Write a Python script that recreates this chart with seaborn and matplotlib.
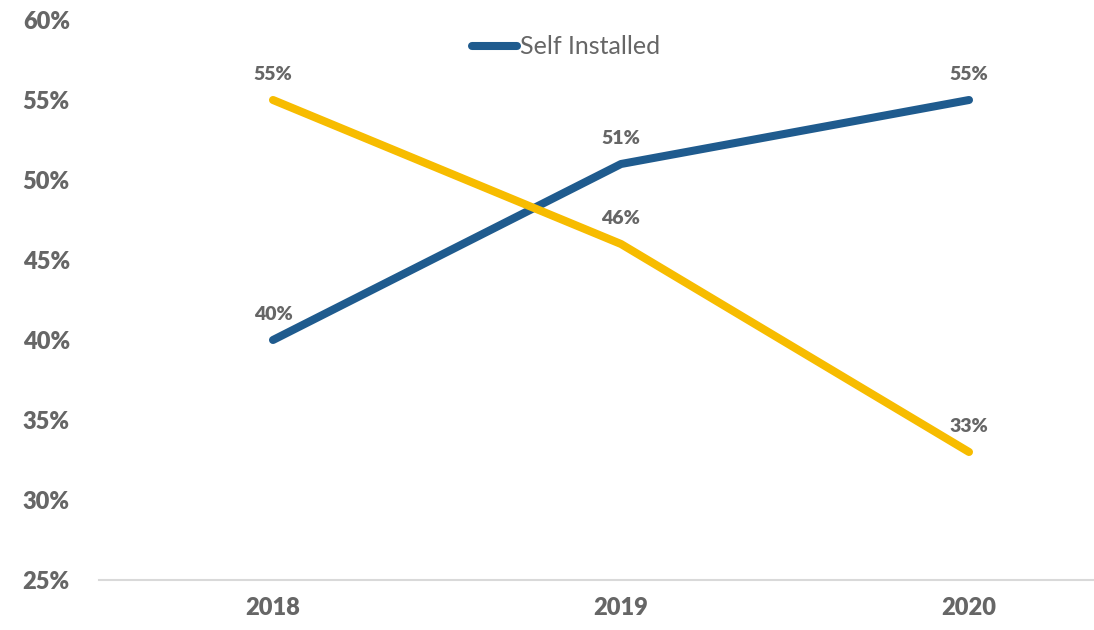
import matplotlib
matplotlib.use("Agg")
import matplotlib.pyplot as plt
from matplotlib.lines import Line2D
from matplotlib.ticker import FuncFormatter
import seaborn as sns
import pandas as pd

years = ["2018", "2019", "2020"]
self_installed = [40, 51, 55]
other_installed = [55, 46, 33]
series_names = ["Self Installed", "Other"]
y_ticks = [25, 30, 35, 40, 45, 50, 55, 60]

BLUE = "#1F5B8E"
GOLD = "#F7BC00"
GREY = "#666666"

sns.set_theme(style="white")
plt.rcParams["font.family"] = ["Lato", "DejaVu Sans"]

df = pd.DataFrame({
    "x": list(range(len(years))) * 2,
    "value": self_installed + other_installed,
    "series": [series_names[0]] * 3 + [series_names[1]] * 3,
})

fig = plt.figure(figsize=(10.94, 6.30), dpi=100)
ax = fig.add_axes([99 / 1094, 50 / 630, 1044 / 1094, 560 / 630])

sns.lineplot(data=df, x="x", y="value", hue="series",
             palette={series_names[0]: BLUE, series_names[1]: GOLD},
             linewidth=5.8, ax=ax, legend=False, sort=False)
for line in ax.lines:
    line.set_solid_capstyle("round")

for vals in (self_installed, other_installed):
    for i, v in enumerate(vals):
        ax.annotate(f"{v}%", (i, v), xytext=(0, 12), textcoords="offset points",
                    ha="center", va="bottom", fontsize=14, fontweight="heavy",
                    color=GREY)

ax.set_xlim(-0.5, 2.5)
ax.set_ylim(25, 60)
ax.set_yticks(y_ticks)
ax.yaxis.set_major_formatter(FuncFormatter(lambda v, p: f"{v:.0f}%"))
ax.set_xticks(range(len(years)))
ax.set_xticklabels(years)
ax.set_xlabel("")
ax.set_ylabel("")
ax.tick_params(axis="both", length=0, labelsize=17, labelcolor=GREY)
ax.tick_params(axis="y", pad=21)
ax.tick_params(axis="x", pad=12)
for lbl in ax.get_xticklabels() + ax.get_yticklabels():
    lbl.set_fontweight("heavy")
ax.grid(False)
for s in ["top", "right", "left"]:
    ax.spines[s].set_visible(False)
ax.spines["bottom"].set_color("#D9D9D9")
ax.spines["bottom"].set_linewidth(1.5)

handle = Line2D([], [], color=BLUE, linewidth=5.8, solid_capstyle="round")
fig.legend(handles=[handle], labels=[series_names[0]], loc="center",
           bbox_to_anchor=(566 / 1094, 1 - 47 / 630), frameon=False,
           fontsize=18, handlelength=1.8, handletextpad=0.1,
           labelcolor=GREY)

fig.savefig("out.png", dpi=100)
